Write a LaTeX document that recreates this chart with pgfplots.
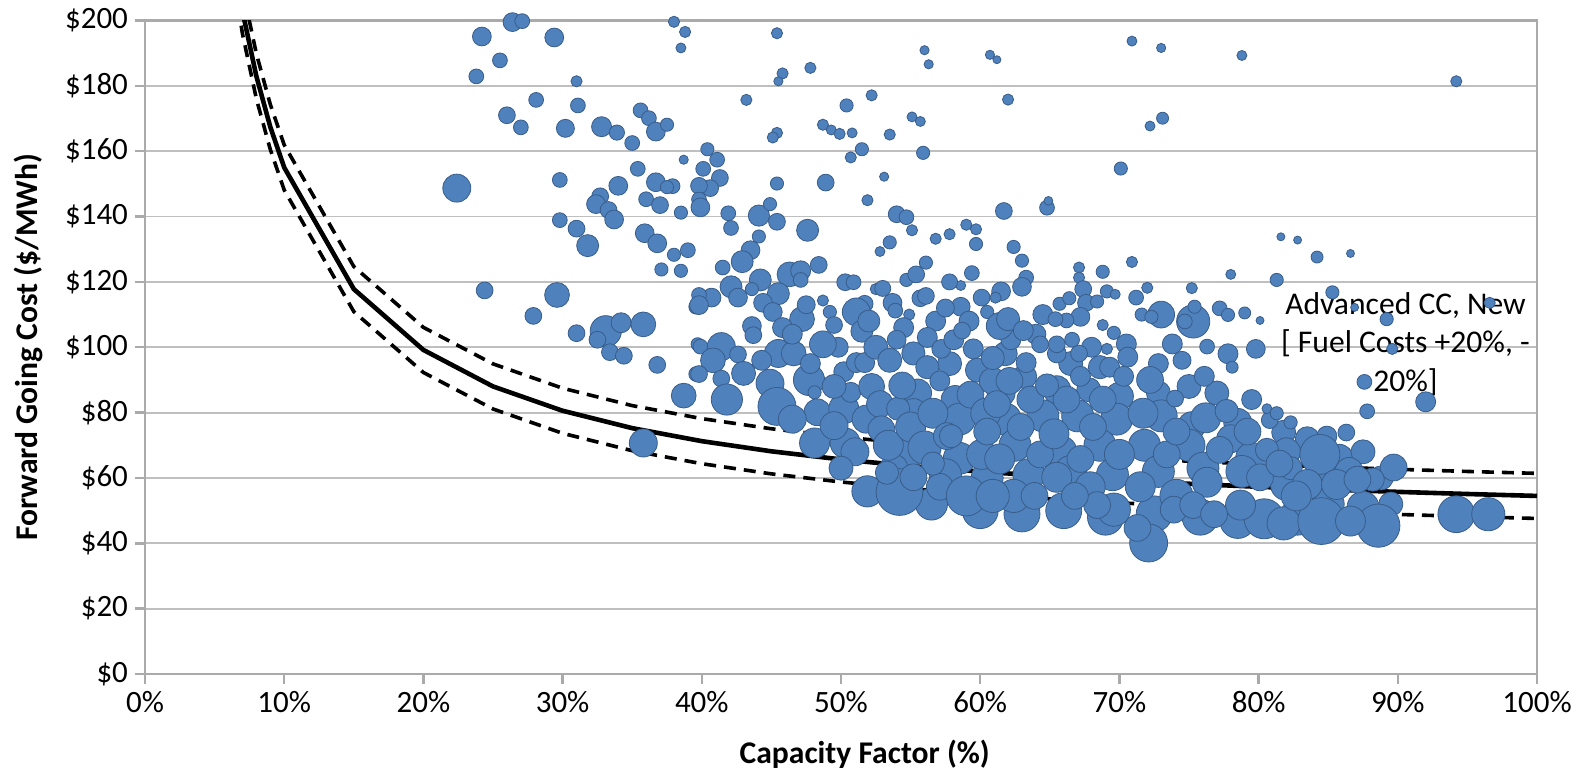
\documentclass[border=0pt]{standalone}
\usepackage{pgfplots}
\pgfplotsset{compat=1.18}
\usepackage{pgfplotstable}
\usepackage{fontspec}
\setmainfont{Carlito}
\definecolor{bfill}{RGB}{79,129,189}
\definecolor{bedge}{RGB}{56,93,138}
\definecolor{gridc}{RGB}{191,191,191}
\definecolor{axisc}{RGB}{170,170,170}
\pgfplotstableread{
x y r
24.2 195.1 4.7
26.4 199.5 4.7
27.1 199.8 3.7
29.4 194.8 4.7
25.5 187.8 3.7
23.8 182.9 3.7
31.0 181.4 2.8
28.1 175.7 3.7
31.1 174.0 3.7
26.0 171.0 4.2
27.0 167.3 3.7
30.2 167.0 4.5
32.8 167.5 5.0
33.9 165.7 3.8
35.0 162.5 3.7
35.6 172.5 3.7
36.2 170.1 3.7
36.7 166.0 4.7
37.5 168.1 3.3
38.0 199.6 2.8
38.8 196.5 2.8
38.5 191.6 2.5
39.0 200.5 3.3
22.4 148.7 7.0
29.8 151.2 3.7
35.4 154.6 3.7
38.7 157.4 2.3
34.0 149.4 4.7
32.7 146.2 4.2
32.4 143.8 4.7
33.3 142.0 4.2
33.7 139.1 4.7
36.7 150.5 4.7
37.9 149.3 3.7
37.5 149.0 3.3
36.0 145.3 3.7
37.0 143.5 4.2
38.5 141.2 3.3
29.8 138.9 3.7
31.0 136.3 4.2
31.8 131.1 5.5
35.9 134.9 4.7
36.8 131.8 4.7
38.0 128.3 3.3
39.0 129.7 3.7
37.1 123.8 3.3
38.5 123.4 3.3
24.4 117.4 4.2
29.6 116.0 6.2
27.9 109.6 4.2
31.0 104.3 4.2
33.1 104.9 7.8
34.2 107.5 5.0
35.8 107.0 6.2
32.5 102.3 4.2
33.4 98.5 4.2
34.4 97.4 4.2
36.8 94.6 4.2
38.7 85.2 6.2
35.8 70.7 7.0
39.6 112.4 3.7
39.7 100.9 3.3
39.6 91.8 3.7
45.4 196.1 2.8
47.8 185.5 2.8
45.8 183.8 2.8
45.5 181.4 2.3
43.2 175.7 2.8
56.0 190.9 2.3
56.3 186.6 2.3
60.7 189.5 2.3
61.2 188.0 2.0
52.2 177.1 2.8
50.4 174.0 3.3
48.7 168.1 2.8
49.3 166.5 2.5
49.9 165.3 2.8
50.8 165.6 2.5
45.4 165.6 2.8
45.1 164.2 2.8
55.1 170.5 2.5
55.7 169.1 2.5
53.5 165.1 2.8
51.5 160.6 3.3
50.7 158.1 2.8
55.9 159.5 3.3
40.4 160.6 3.3
41.1 157.4 3.7
40.1 154.6 3.7
41.3 151.8 4.2
40.6 148.7 4.2
39.8 149.4 4.2
39.8 145.2 3.7
39.9 142.8 4.7
45.4 150.1 3.3
48.9 150.4 4.2
53.1 152.2 2.3
51.9 145.0 2.8
41.9 141.0 3.7
44.1 140.3 5.3
44.9 143.8 3.3
45.4 138.4 4.2
42.1 136.5 3.7
47.6 135.8 5.5
54.0 140.7 4.2
54.7 139.8 3.7
55.1 135.8 2.8
59.0 137.5 2.8
59.7 136.1 2.8
59.7 131.6 3.3
56.8 133.2 2.8
57.8 134.6 2.8
53.5 132.1 3.3
52.8 129.3 2.5
44.1 133.9 3.3
43.5 129.7 4.7
42.9 126.2 5.5
41.5 124.4 3.7
44.2 120.6 5.5
46.3 122.3 6.2
47.1 123.4 5.0
48.4 125.2 4.2
42.1 118.5 5.5
40.7 115.2 4.7
39.8 116.0 3.7
39.8 112.9 4.7
42.6 115.2 4.7
43.6 117.8 3.3
45.5 116.4 5.5
44.4 113.6 4.7
45.1 110.8 4.7
43.6 106.5 4.7
43.7 103.7 4.2
47.1 120.6 3.7
50.3 119.9 4.2
50.9 119.9 3.7
52.5 117.8 2.8
54.7 120.6 3.3
55.4 122.3 4.2
56.1 125.9 3.3
55.7 115.0 4.2
56.1 115.7 4.2
58.6 118.9 2.5
59.4 122.7 3.7
60.1 115.2 4.2
60.5 110.8 3.3
58.6 112.4 4.7
54.9 110.0 2.8
53.7 113.6 4.7
53.9 111.2 3.7
51.7 113.3 4.2
51.1 110.8 7.0
48.7 114.3 2.8
49.2 110.8 3.3
49.5 106.8 4.2
47.2 108.6 6.2
51.5 104.9 5.5
52.0 108.0 5.5
54.5 106.0 5.0
56.8 108.0 5.0
57.5 112.0 4.5
59.2 108.0 5.0
53.0 118.0 4.0
57.8 120.0 4.0
49.8 100.0 5.0
47.5 113.0 4.5
45.8 106.0 5.0
64.5 110.0 5.0
70.5 101.0 5.0
73.8 101.0 5.0
77.8 98.0 5.0
39.9 100.2 3.7
41.4 100.2 7.0
42.6 97.8 4.2
40.8 96.0 6.2
39.8 91.8 4.2
41.4 90.4 4.2
41.8 84.0 7.8
44.9 89.0 7.0
45.4 81.9 9.5
45.5 98.1 7.0
46.6 98.1 6.2
47.7 90.0 7.8
48.1 86.2 3.3
48.3 80.1 6.7
48.7 100.9 6.7
50.2 92.5 5.0
50.2 81.2 7.5
50.7 86.2 5.0
51.1 95.3 5.0
51.7 95.3 5.0
48.1 70.7 7.5
50.3 70.7 7.5
43.0 92.0 6.0
46.5 104.0 5.0
44.3 96.0 5.0
47.8 95.0 5.0
52.5 100.0 6.0
53.5 96.0 6.0
57.8 95.0 6.0
59.8 93.0 6.0
61.8 98.0 6.0
64.0 104.0 5.0
66.5 95.0 6.0
68.0 100.0 5.0
70.6 97.0 5.0
72.8 95.0 5.0
74.5 96.0 4.5
49.5 88.0 6.0
52.2 88.0 6.5
55.5 86.0 7.0
58.2 84.0 7.0
61.5 86.0 7.0
63.2 91.0 6.0
65.5 87.0 7.0
67.8 87.0 6.0
70.0 85.0 7.0
72.8 86.0 6.0
75.0 88.0 6.0
77.0 86.0 6.0
79.5 84.0 5.0
46.5 78.0 7.0
49.5 76.0 7.0
51.8 78.0 7.0
55.2 80.0 7.0
58.5 78.0 8.0
61.8 78.0 8.0
64.5 79.0 8.0
67.0 79.0 8.0
69.8 78.0 8.0
73.0 79.0 8.0
75.2 76.0 7.0
78.5 77.0 7.0
81.8 74.0 6.0
83.5 72.0 6.0
51.0 68.0 7.0
54.6 67.0 8.0
58.5 66.0 8.0
62.5 70.0 8.0
65.8 68.0 8.0
68.6 70.0 8.0
71.8 70.0 8.0
75.0 70.0 8.0
78.0 72.0 7.0
79.5 66.0 8.0
82.0 68.0 7.0
85.8 66.0 7.0
87.5 68.0 6.0
50.0 63.0 6.0
53.8 63.0 7.0
57.5 61.0 8.0
60.5 60.0 8.0
63.5 61.0 8.0
66.5 62.0 8.0
69.5 61.0 8.0
72.8 62.0 8.0
76.0 63.0 8.0
78.8 62.0 8.0
82.0 58.0 8.0
84.5 60.0 7.0
86.5 62.0 7.0
88.8 60.0 6.0
56.5 52.0 8.0
60.0 50.0 9.0
63.0 49.0 9.0
66.0 50.0 9.0
69.0 48.0 9.0
72.5 49.0 9.0
75.8 48.0 9.0
78.5 47.0 9.0
82.8 48.0 9.0
85.0 52.0 8.0
87.5 51.0 8.0
89.5 52.0 6.0
51.9 55.9 7.8
54.2 55.7 11.7
52.8 82.6 6.7
52.9 74.9 6.7
53.4 70.0 7.5
54.1 81.2 5.8
54.4 88.3 6.7
55.0 75.6 7.5
54.0 102.3 4.7
55.2 98.1 5.8
56.2 103.0 5.0
57.2 99.5 4.7
58.1 102.3 5.0
58.7 105.1 4.2
59.5 99.5 5.0
56.2 93.9 5.8
57.1 89.7 5.0
56.6 79.8 7.5
56.0 69.3 8.3
57.1 57.3 6.7
57.6 72.8 6.7
59.3 85.5 6.7
59.0 54.5 10.0
60.1 67.2 7.5
60.4 79.8 7.5
60.9 89.7 6.7
57.9 72.8 5.8
56.6 64.4 5.8
53.3 61.6 5.8
55.2 60.2 6.7
62.0 175.8 2.8
70.9 193.7 2.5
73.0 191.6 2.3
78.8 189.3 2.5
72.2 167.7 2.5
73.1 170.1 3.0
70.1 154.7 3.3
61.7 141.7 4.2
64.8 142.7 3.7
64.9 144.8 2.2
62.4 130.7 3.3
63.0 126.5 3.3
63.3 121.3 3.7
63.0 118.5 4.7
61.5 117.1 4.7
61.1 115.2 2.8
67.1 124.4 2.8
67.1 121.3 2.8
68.8 123.1 3.3
70.9 126.1 2.8
72.0 118.2 2.8
71.2 115.2 3.7
67.4 117.8 4.2
69.1 117.1 3.3
69.7 116.2 2.5
65.7 113.3 3.3
66.4 115.0 3.3
67.6 113.6 4.2
68.4 114.0 3.3
67.2 109.3 4.7
66.2 108.2 3.7
65.4 108.6 3.7
68.8 106.8 2.8
69.6 104.4 3.3
71.6 110.0 3.3
73.0 110.0 6.7
72.3 109.3 3.3
75.3 107.9 8.3
74.7 107.9 3.7
75.4 112.4 3.3
75.2 118.1 2.8
77.2 111.9 3.7
77.8 109.9 3.3
79.0 110.5 3.0
80.1 108.2 2.0
78.0 122.3 2.5
81.3 120.6 3.3
81.6 133.8 2.0
82.8 132.8 2.0
76.3 100.2 3.7
79.8 99.5 4.7
78.1 93.9 3.0
76.1 91.1 5.0
72.2 90.0 6.7
74.0 84.3 4.2
72.1 40.1 9.5
71.7 79.8 7.5
76.2 78.4 7.5
77.7 80.5 5.8
80.8 77.7 4.2
82.3 77.0 3.3
80.6 81.2 2.5
80.4 47.5 10.0
81.8 46.1 8.3
78.7 51.7 7.5
69.6 50.3 8.3
74.1 54.5 8.3
65.5 60.2 7.5
62.4 54.5 8.3
60.9 54.5 8.3
67.9 57.3 7.5
71.5 57.3 7.5
76.3 58.7 7.5
80.1 60.2 6.7
82.3 63.0 5.8
61.4 65.8 7.5
64.3 67.2 6.7
67.2 65.8 6.7
70.0 67.2 7.5
73.4 67.2 6.7
77.2 68.6 6.7
80.6 68.6 5.8
60.5 74.2 6.7
62.9 75.6 6.7
65.3 73.5 7.5
68.1 75.6 6.7
74.1 74.2 6.7
79.2 74.2 6.7
61.2 82.6 6.7
63.6 84.0 6.7
66.2 84.0 6.7
68.8 84.0 6.7
62.1 89.7 6.7
64.8 88.3 5.8
67.2 91.1 5.0
68.6 93.9 5.8
60.9 96.7 5.8
63.3 95.3 5.0
65.5 98.1 4.7
67.1 98.1 4.2
69.3 93.9 5.0
70.3 91.1 5.0
62.2 102.3 5.0
64.3 100.9 4.2
65.5 100.9 4.2
66.6 102.3 3.7
61.4 106.5 6.7
62.0 108.6 5.8
63.1 105.1 5.0
69.1 99.5 2.8
71.3 44.7 6.7
68.4 51.7 6.7
73.9 50.3 6.7
75.3 51.7 6.7
63.9 54.5 6.7
66.8 54.5 6.7
76.8 48.9 6.7
94.2 181.4 2.8
84.2 127.6 3.0
86.6 128.7 2.0
85.3 116.8 3.3
86.9 112.2 2.0
96.6 113.6 2.8
89.2 108.6 3.3
89.6 99.5 2.8
87.6 89.4 3.7
92.0 83.3 5.0
87.8 80.4 3.7
86.3 73.9 4.2
84.9 72.8 5.0
84.4 67.2 10.0
89.7 63.2 6.7
88.2 59.5 5.8
88.6 45.4 10.8
94.2 48.9 9.2
96.5 48.9 8.3
84.5 46.8 11.7
83.5 58.0 7.5
85.6 58.0 7.5
87.1 59.5 6.7
86.6 46.8 7.5
81.5 64.4 6.7
82.7 54.5 7.5
81.3 79.8 3.3
}\bubbles
\begin{document}
\begin{tikzpicture}
\begin{axis}[
  scale only axis, width=696pt, height=326.75pt,
  xmin=0, xmax=100, ymin=0, ymax=200,
  xtick={0,10,20,30,40,50,60,70,80,90,100},
  xticklabels={0\%,10\%,20\%,30\%,40\%,50\%,60\%,70\%,80\%,90\%,100\%},
  ytick={0,20,40,60,80,100,120,140,160,180,200},
  yticklabels={\$0,\$20,\$40,\$60,\$80,\$100,\$120,\$140,\$160,\$180,\$200},
  ymajorgrids, major grid style={draw=gridc, line width=0.9pt},
  axis line style={draw=axisc, line width=1.2pt},
  tick style={draw=axisc, line width=1.2pt},
  tick align=outside, major tick length=5pt,
  xtick pos=left, ytick pos=left,
  ticklabel style={font=\fontsize{15.5}{18}\selectfont, text=black},
  xlabel={Capacity Factor (\%)},
  ylabel={Forward Going Cost (\$/MWh)},
  label style={font=\bfseries\fontsize{15.8}{18}\selectfont, text=black},
  xlabel style={at={(axis description cs:0.517,-0.123)}, anchor=center},
  ylabel style={at={(axis description cs:-0.084,0.5)}, anchor=center},
]
\addplot[scatter, only marks, mark=*,
  scatter/use mapped color={draw=bedge, fill=bfill},
  visualization depends on={\thisrow{r} \as \rr},
  scatter/@pre marker code/.append style={/tikz/mark size=\rr, /tikz/line width=0.5pt}]
  table[x=x, y=y] {\bubbles};
\addplot[black, line width=1.8pt, dash pattern=on 6pt off 4pt] coordinates {
(6,236.40)(7,209.80)(8,189.86)(9,174.34)(10,161.93)(15,124.70)(20,106.08)(25,94.91)(30,87.46)(35,82.14)(40,78.16)(45,75.05)(50,72.57)(55,70.54)(60,68.85)(65,67.41)(70,66.19)(75,65.12)(80,64.19)(85,63.37)(90,62.64)(95,61.99)(100,61.40)};
\addplot[black, line width=1.8pt, dash pattern=on 6pt off 4pt] coordinates {
(6,222.60)(7,196.00)(8,176.06)(9,160.54)(10,148.13)(15,110.90)(20,92.28)(25,81.11)(30,73.66)(35,68.34)(40,64.36)(45,61.25)(50,58.77)(55,56.74)(60,55.05)(65,53.61)(70,52.39)(75,51.32)(80,50.39)(85,49.57)(90,48.84)(95,48.19)(100,47.60)};
\addplot[black, line width=2.3pt] coordinates {
(6,229.50)(7,202.90)(8,182.96)(9,167.44)(10,155.03)(15,117.80)(20,99.18)(25,88.01)(30,80.56)(35,75.24)(40,71.26)(45,68.15)(50,65.67)(55,63.64)(60,61.95)(65,60.51)(70,59.29)(75,58.22)(80,57.29)(85,56.47)(90,55.74)(95,55.09)(100,54.50)};
\node[align=center, font=\fontsize{15.8}{19.3}\selectfont, text=black] at (axis cs:90.55,101) {Advanced CC, New\\{}[ Fuel Costs +20\%, -\\20\%]};
\end{axis}
\pgfresetboundingbox
\path[use as bounding box] (current axis.south west) ++(-72.5pt,-54pt) rectangle ++(794pt,391pt);
\end{tikzpicture}
\end{document}
